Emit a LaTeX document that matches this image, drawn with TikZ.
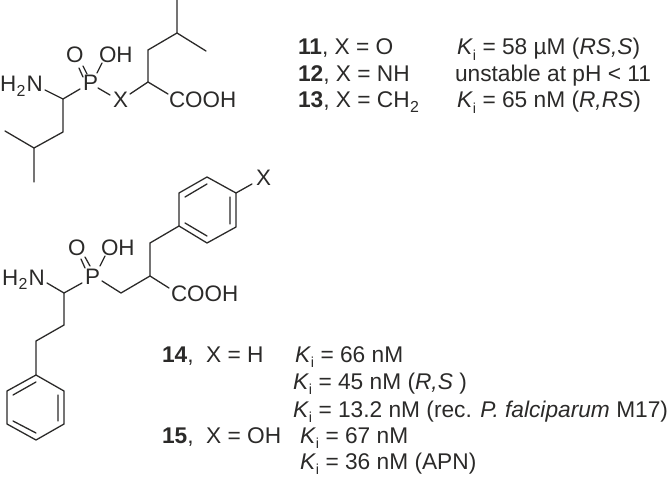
\documentclass[tikz,border=0pt]{standalone}
\usepackage{fontspec}
\setmainfont{Liberation Sans}
\definecolor{ink}{HTML}{2B2A29}
\newcommand{\Ki}{\textit{K}\raisebox{-0.25em}{\fontsize{14.5}{14}\selectfont i}}
\newcommand{\subtwo}{\kern0.5bp\raisebox{-0.22em}{\fontsize{16}{14}\selectfont 2}\kern1bp}
\tikzset{
  atom/.style={inner sep=0pt,outer sep=0pt,anchor=base west,text=ink,font=\fontsize{22.5}{24}\selectfont},
  label/.style={inner sep=0pt,outer sep=0pt,anchor=base west,text=ink,font=\fontsize{22.8}{24}\selectfont},
  bond/.style={draw=ink,line width=1.3bp,line cap=round,line join=round}
}
\begin{document}
\begin{tikzpicture}[x=1bp,y=-1bp]
\useasboundingbox (0,0) rectangle (669,479);
% --- upper molecule
\node[atom] (aN) at (0,92) {H\subtwo N};
\node[atom] (aO) at (66,63) {O};
\node[atom] (aOH) at (99,63) {OH};
\node[atom] (aP) at (83,91) {P};
\node[atom] (aX) at (113,108) {X};
\node[atom] (aC) at (169,108) {COOH};
\foreach \n/\x/\y in {a1/177/-2,a2/177/33,a3/206/51,a4/148/50,a5/148/82,a6/63/99,a7/63/132,a8/34/148,a9/5/131,a10/34/182,
  ae1/45/90,ae2/80/89,ae3/98/88,ae4/110/95,ae5/130/94,ae6/168/94,ae7/97/73,ae8/102/63,
  ad1/79/68,ad2/83/77,ad3/83/66,ad4/87/74}
  \coordinate (\n) at (\x,\y);
\draw[bond] (a1)--(a2)--(a3) (a2)--(a4)--(a5)--(ae6) (a5)--(ae5) (ae4)--(ae3) (ae2)--(a6)--(ae1)
  (a6)--(a7)--(a8)--(a9) (a8)--(a10) (ae7)--(ae8) (ad1)--(ad2) (ad3)--(ad4);
% --- lower molecule
\node[atom] (bN) at (2,285) {H\subtwo N};
\node[atom] (bO) at (68,256) {O};
\node[atom] (bOH) at (101,256) {OH};
\node[atom] (bP) at (85,284) {P};
\node[atom] (bX) at (256,186) {X};
\node[atom] (bC) at (171,301) {COOH};
\foreach \n/\x/\y in {r1/207/177,r2/236/193,r3/236/227,r4/207/243,r5/179/226,r6/179/193,
  r1a/207/184,r2a/230/197,r3a/230/224,r4a/207/236,r5a/185/223,r6a/185/197,
  b1/150/243,b2/150/276,b3/121/293,b4/64/293,b5/64/325,b6/36/341,
  s1/36/375,s2/64/391,s3/64/424,s4/36/440,s5/7/424,s6/7/391,
  s1a/36/382,s2a/58/395,s3a/58/421,s4a/36/433,s5a/13/421,s6a/13/395,
  be1/47/283,be2/82/283,be3/102/281,be4/169/288,be5/252/184,be6/100/266,be7/105/256,
  bd1/81/259,bd2/85/268,bd3/85/257,bd4/90/266}
  \coordinate (\n) at (\x,\y);
\draw[bond] (r1)--(r2)--(r3)--(r4)--(r5)--(r6)--cycle (r6a)--(r1a) (r2a)--(r3a) (r4a)--(r5a)
  (r2)--(be5) (r5)--(b1)--(b2)--(be4) (b2)--(b3)--(be3) (be2)--(b4)--(be1) (b4)--(b5)--(b6)--(s1)
  (s1)--(s2)--(s3)--(s4)--(s5)--(s6)--cycle (s6a)--(s1a) (s2a)--(s3a) (s4a)--(s5a)
  (be6)--(be7) (bd1)--(bd2) (bd3)--(bd4);
% --- upper data
\node[label] (t1) at (298,55) {\textbf{11}, X = O};
\node[label] (t2) at (298,82) {\textbf{12}, X = NH};
\node[label] (t3) at (298,108) {\textbf{13}, X = CH\subtwo};
\node[label] (k1) at (457,55) {\Ki{} = 58 µM (\textit{RS,S})};
\node[label] (k2) at (455,82) {unstable at pH < 11};
\node[label] (k3) at (457,108) {\Ki{} = 65 nM (\textit{R,RS})};
% --- lower data
\node[label] (t4) at (162,362) {\textbf{14},\ \ X = H};
\node[label] (t5) at (162,443) {\textbf{15},\ \ X = OH};
\node[label] (k4) at (295,362) {\Ki{} = 66 nM};
\node[label] (k5) at (293,389) {\Ki{} = 45 nM (\textit{R,S} )};
\node[label] (k6) at (293,417) {\Ki{} = 13.2 nM (rec. \textit{P. falciparum} M17)};
\node[label] (k7) at (300,443) {\Ki{} = 67 nM};
\node[label] (k8) at (300,469) {\Ki{} = 36 nM (APN)};
\end{tikzpicture}
\end{document}
